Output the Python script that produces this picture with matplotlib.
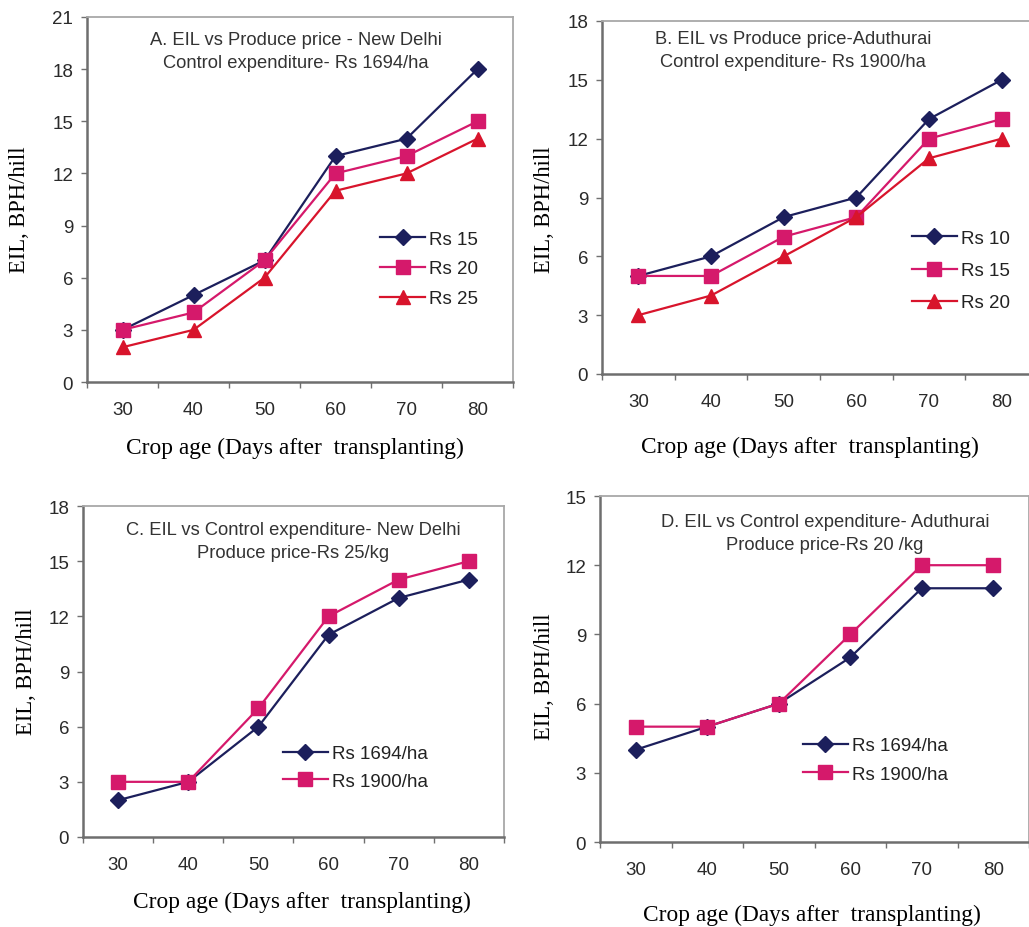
import matplotlib
matplotlib.use("Agg")
import matplotlib.pyplot as plt

# ---------------- data ----------------
crop_age = ["30", "40", "50", "60", "70", "80"]

# Panel A: EIL vs produce price - New Delhi
a_rs15 = [3, 5, 7, 13, 14, 18]
a_rs20 = [3, 4, 7, 12, 13, 15]
a_rs25 = [2, 3, 6, 11, 12, 14]
a_labels = ["Rs 15", "Rs 20", "Rs 25"]

# Panel B: EIL vs produce price - Aduthurai
b_rs10 = [5, 6, 8, 9, 13, 15]
b_rs15 = [5, 5, 7, 8, 12, 13]
b_rs20 = [3, 4, 6, 8, 11, 12]
b_labels = ["Rs 10", "Rs 15", "Rs 20"]

# Panel C: EIL vs control expenditure - New Delhi
c_1694 = [2, 3, 6, 11, 13, 14]
c_1900 = [3, 3, 7, 12, 14, 15]
# Panel D: EIL vs control expenditure - Aduthurai
d_1694 = [4, 5, 6, 8, 11, 11]
d_1900 = [5, 5, 6, 9, 12, 12]
cd_labels = ["Rs 1694/ha", "Rs 1900/ha"]

titles = [
    "A. EIL vs Produce price - New Delhi\nControl expenditure- Rs 1694/ha",
    "B. EIL vs Produce price-Aduthurai\nControl expenditure- Rs 1900/ha",
    "C. EIL vs Control expenditure- New Delhi\nProduce price-Rs 25/kg",
    "D. EIL vs Control expenditure- Aduthurai\nProduce price-Rs 20 /kg",
]
ylabel = "EIL, BPH/hill"
xlabel = "Crop age (Days after  transplanting)"

# ---------------- style ----------------
NAVY = "#1c1f5c"
MAG = "#d5196b"
RED = "#d8142c"
SANS = ["Liberation Sans", "DejaVu Sans"]
SERIF = ["Liberation Serif", "DejaVu Serif"]
TICKC = "#2a2a2a"

W, H = 1029, 928
fig = plt.figure(figsize=(W / 100, H / 100), dpi=100)
fig.patch.set_facecolor("white")


def make_ax(left, right, top, bottom):
    return fig.add_axes([left / W, 1 - bottom / H, (right - left) / W, (bottom - top) / H])


def style_ax(ax, ymax):
    n = len(crop_age)
    ax.set_xlim(-0.5, n - 0.5)
    ax.set_ylim(0, ymax)
    ax.set_yticks(range(0, ymax + 1, 3))
    ax.set_xticks(range(n))
    ax.set_xticklabels(crop_age)
    ax.set_xticks([i - 0.5 for i in range(n + 1)], minor=True)
    ax.tick_params(axis="x", which="major", length=0, pad=14, labelsize=13.5, labelcolor=TICKC)
    ax.tick_params(axis="x", which="minor", length=4, direction="out", color="#707070", width=1)
    ax.tick_params(axis="y", length=4, direction="out", color="#707070", width=1,
                   pad=6, labelsize=13.5, labelcolor=TICKC)
    for lab in ax.get_xticklabels() + ax.get_yticklabels():
        lab.set_family(SANS)
    for s in ["left", "bottom"]:
        ax.spines[s].set_color("#6e6e6e")
        ax.spines[s].set_linewidth(1.8)
    for s in ["top", "right"]:
        ax.spines[s].set_color("#a8a8a8")
        ax.spines[s].set_linewidth(1.3)


MS = {"D": 8.5, "s": 9.5, "^": 9.5}


def plot_series(ax, y, color, marker, label):
    ax.plot(range(len(y)), y, color=color, lw=1.6, marker=marker, ms=MS[marker],
            mfc=color, mec=color, label=label, clip_on=False, zorder=3)


def add_title(ax, x, y, text):
    ax.text(x, y, text, transform=ax.transAxes, ha="center", va="top",
            family=SANS, fontsize=13.2, color="#333333", linespacing=1.45)


def add_legend(ax, x, y, ls):
    ax.legend(loc="center left", bbox_to_anchor=(x, y), frameon=False,
              prop={"family": SANS, "size": 13.5}, handlelength=2.4, handletextpad=0.2,
              labelspacing=ls, borderpad=0, borderaxespad=0, labelcolor="#222222")


# Panel A
axA = make_ax(87, 513, 18, 383)
style_ax(axA, 21)
plot_series(axA, a_rs15, NAVY, "D", a_labels[0])
plot_series(axA, a_rs20, MAG, "s", a_labels[1])
plot_series(axA, a_rs25, RED, "^", a_labels[2])
add_title(axA, 0.49, 0.962, titles[0])
add_legend(axA, 0.688, 0.31, 0.68)

# Panel B
axB = make_ax(602, 1038, 22, 375)
style_ax(axB, 18)
plot_series(axB, b_rs10, NAVY, "D", b_labels[0])
plot_series(axB, b_rs15, MAG, "s", b_labels[1])
plot_series(axB, b_rs20, RED, "^", b_labels[2])
add_title(axB, 0.438, 0.975, titles[1])
add_legend(axB, 0.711, 0.293, 0.81)

# Panel C
axC = make_ax(83, 504, 507, 838)
style_ax(axC, 18)
plot_series(axC, c_1694, NAVY, "D", cd_labels[0])
plot_series(axC, c_1900, MAG, "s", cd_labels[1])
add_title(axC, 0.5, 0.955, titles[2])
add_legend(axC, 0.475, 0.21, 0.55)

# Panel D
axD = make_ax(600, 1029, 497, 843)
style_ax(axD, 15)
plot_series(axD, d_1694, NAVY, "D", cd_labels[0])
plot_series(axD, d_1900, MAG, "s", cd_labels[1])
add_title(axD, 0.524, 0.95, titles[3])
add_legend(axD, 0.473, 0.237, 0.6)

# Axis labels (serif)
for (x, y) in [(20, 210), (545, 210), (27, 672), (545, 677)]:
    fig.text(x / W, 1 - y / H, ylabel, rotation=90, ha="center", va="center",
             family=SERIF, fontsize=16.3, color="black")
for (x, y) in [(295, 448), (810, 447), (302, 902), (812, 915)]:
    fig.text(x / W, 1 - y / H, xlabel, ha="center", va="center",
             family=SERIF, fontsize=16.8, color="black")

fig.savefig("out.png", dpi=100, facecolor="white")
